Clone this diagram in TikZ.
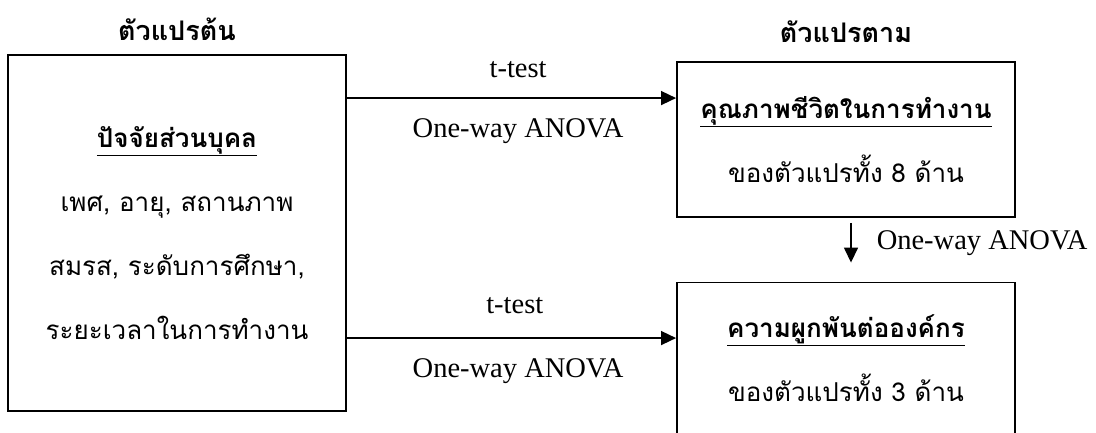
\documentclass[tikz,border=0pt]{standalone}
\usepackage{fontspec}
\setmainfont{Liberation Serif}
\newfontfamily\thaifont[Script=Thai]{Loma}
\usepackage{tikz}
\usetikzlibrary{arrows.meta, positioning}

\begin{document}
\begin{tikzpicture}[x=1pt,y=-1pt,>={Triangle[length=15pt,width=14pt]},line width=1.5pt]
                \tikzset{box/.style={draw, line width=1.9pt, minimum width=338pt, align=center, inner sep=0pt,
                                     font=\thaifont\fontsize{26}{64}\selectfont},
                         lbl/.style={font=\fontsize{28.5}{32}\selectfont, inner sep=0pt},
                         head/.style={font=\thaifont\bfseries\fontsize{27}{30}\selectfont, inner sep=0pt}}
                \useasboundingbox (0,0) rectangle (1096,432);
                \node[box, minimum height=356pt] (P) at (177,233) {\textbf{\underline{ปัจจัยส่วนบุคล}}\\เพศ, อายุ, สถานภาพ\\สมรส, ระดับการศึกษา,\\ระยะเวลาในการทำงาน};
                \node[box, minimum height=155pt] (Q) at (846,139.5) {\textbf{\underline{คุณภาพชีวิตในการทำงาน}}\\ของตัวแปรทั้ง 8 ด้าน};
                \node[box, minimum height=152pt] (C) at (846,358.5) {\textbf{\underline{ความผูกพันต่อองค์กร}}\\ของตัวแปรทั้ง 3 ด้าน};
                \node[head, above=25pt of P.north, anchor=center] (X) {ตัวแปรต้น};
                \node[head, above=29pt of Q.north, anchor=center] (Y) {ตัวแปรตาม};
                \coordinate (a1) at ([yshift=-44pt]P.north east);
                \coordinate (a2) at ([yshift=-284pt]P.north east);
                \draw[->] (a1) -- (a1 -| Q.west) node[lbl, pos=.52, above=28pt, anchor=center] {t-test}
                                              node[lbl, pos=.52, below=33pt, anchor=center] {One-way ANOVA};
                \draw[->] (a2) -- (a2 -| C.west) node[lbl, pos=.51, above=32pt, anchor=center] {t-test}
                                              node[lbl, pos=.52, below=33pt, anchor=center] {One-way ANOVA};
                \draw[->] ([xshift=5pt,yshift=-5pt]Q.south) -- ([xshift=5pt,yshift=19pt]C.north)
                                              node[lbl, midway, right=25pt, anchor=west] {One-way ANOVA};
            \end{tikzpicture}
\end{document}
